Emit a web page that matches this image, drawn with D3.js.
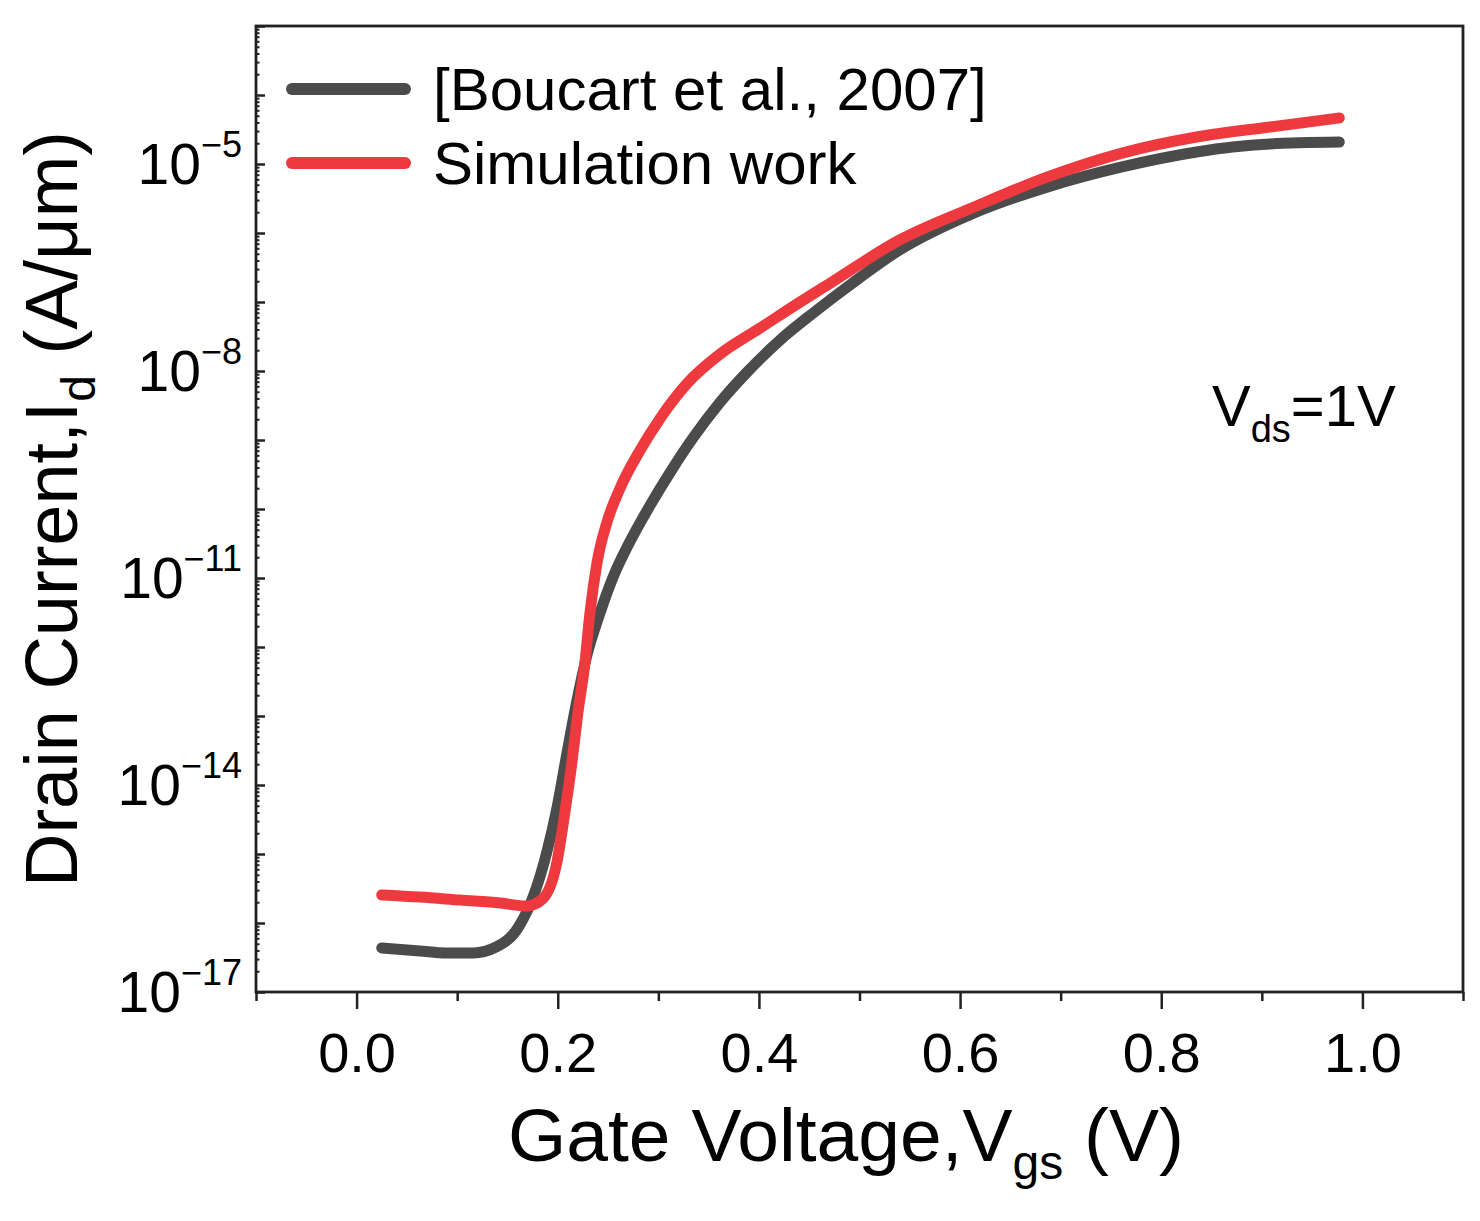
<!DOCTYPE html>
<html>
<head>
<meta charset="utf-8">
<script src="https://cdn.jsdelivr.net/npm/d3@7"></script>
<style>
  body { margin: 0; background: #fff; }
  text { font-family: "Liberation Sans", Arial, sans-serif; fill: #000; }
</style>
</head>
<body>
<div id="chart"></div>
<script>
// values
const refVgs = [0.025, 0.063, 0.089, 0.116, 0.139, 0.161, 0.178, 0.189, 0.199, 0.209,
  0.219, 0.229, 0.242, 0.255, 0.27, 0.292, 0.312, 0.335, 0.361, 0.388,
  0.421, 0.454, 0.493, 0.54, 0.614, 0.687, 0.761, 0.835, 0.871, 0.908, 0.977];
const refId = [4.35e-17, 3.93e-17, 3.67e-17, 3.67e-17, 4.49e-17, 8.75e-17, 3.01e-16, 1.05e-15, 4.47e-15, 2.82e-14,
  1.66e-13, 7.59e-13, 3.11e-12, 1.03e-11, 3.0e-11, 1.14e-10, 3.44e-10, 1.10e-9, 3.47e-9, 9.55e-9,
  2.81e-8, 6.93e-8, 1.88e-7, 5.68e-7, 1.95e-6, 4.65e-6, 9.06e-6, 1.49e-5, 1.76e-5, 1.95e-5, 2.08e-5];

const simVgs = [0.025, 0.063, 0.103, 0.143, 0.169, 0.185, 0.199, 0.207, 0.214, 0.22,
  0.227, 0.232, 0.239, 0.249, 0.262, 0.282, 0.302, 0.329, 0.361, 0.401,
  0.441, 0.471, 0.54, 0.614, 0.687, 0.761, 0.835, 0.908, 0.977];
const simId = [2.55e-16, 2.38e-16, 2.15e-16, 1.95e-16, 1.76e-16, 2.24e-16, 7.41e-16, 3.93e-15, 2.08e-14, 1.10e-13,
  5.86e-13, 3.11e-12, 1.65e-11, 6.49e-11, 2.01e-10, 7.16e-10, 2.08e-9, 6.70e-9, 1.74e-8, 4.17e-8,
  1.0e-7, 1.88e-7, 7.93e-7, 2.38e-6, 6.49e-6, 1.44e-5, 2.46e-5, 3.44e-5, 4.65e-5];

const seriesNames = ["[Boucart et al., 2007]", "Simulation work"];
const seriesColors = ["#4b4b4b", "#ee3a3e"];
const xTickValues = [0.0, 0.2, 0.4, 0.6, 0.8, 1.0];
const xMinorValues = [-0.1, 0.1, 0.3, 0.5, 0.7, 0.9, 1.1];
const yLabelExps = [-17, -14, -11, -8, -5];

const width = 1480;
const height = 1221;
const margin = { t: 26, r: 17, b: 229, l: 256 };
const w = width - margin.l - margin.r;
const h = height - margin.t - margin.b;

const xScale = d3.scaleLinear().domain([-0.1, 1.1]).range([0, w]);
const yScale = d3.scaleLog().domain([1e-17, 1e-3]).range([h, 0]);

const svg = d3
  .select("#chart")
  .append("svg")
  .attr("width", width)
  .attr("height", height);

const g = svg.append("g").attr("transform", `translate(${margin.l}, ${margin.t})`);

// bottom axis: major and minor ticks pointing out
g.append("g")
  .attr("transform", `translate(0, ${h})`)
  .call(d3.axisBottom(xScale).tickValues(xMinorValues).tickSize(9).tickFormat(""))
  .call((a) => a.select(".domain").remove())
  .selectAll("line")
  .attr("stroke", "#222")
  .attr("stroke-width", 2.5);

g.append("g")
  .attr("transform", `translate(0, ${h})`)
  .call(d3.axisBottom(xScale).tickValues(xTickValues).tickSize(17).tickFormat(d3.format(".1f")))
  .call((a) => a.select(".domain").remove())
  .call((a) => a.selectAll("line").attr("stroke", "#222").attr("stroke-width", 2.5))
  .selectAll("text")
  .attr("y", 0)
  .attr("dy", 0)
  .attr("transform", "translate(0, 80)")
  .style("font-size", "56px")
  .style("font-family", '"Liberation Sans", Arial, sans-serif')
  .attr("fill", "#000");

// left axis: decade ticks and small minor ticks pointing in
const decades = d3.range(-17, -2).map((e) => Math.pow(10, e));
const minors = [];
d3.range(-17, -3).forEach((e) => {
  d3.range(2, 10).forEach((m) => minors.push(m * Math.pow(10, e)));
});

g.append("g")
  .call(d3.axisLeft(yScale).tickValues(minors).tickSize(-3.5).tickFormat(""))
  .call((a) => a.select(".domain").remove())
  .selectAll("line")
  .attr("stroke", "#222")
  .attr("stroke-width", 2);

g.append("g")
  .call(d3.axisLeft(yScale).tickValues(decades).tickSize(-9).tickFormat(""))
  .call((a) => a.select(".domain").remove())
  .selectAll("line")
  .attr("stroke", "#222")
  .attr("stroke-width", 2.5);

const yLabels = g
  .append("g")
  .selectAll("text")
  .data(yLabelExps)
  .enter()
  .append("text")
  .attr("x", -14)
  .attr("y", (d) => yScale(Math.pow(10, d)) + 20)
  .attr("text-anchor", "end")
  .style("font-size", "57px");

yLabels.append("tspan").text("10");
yLabels
  .append("tspan")
  .attr("dy", -27)
  .style("font-size", "36px")
  .text((d) => "\u2212" + Math.abs(d));

// frame
g.append("rect")
  .attr("x", 0)
  .attr("y", 0)
  .attr("width", w)
  .attr("height", h)
  .attr("fill", "none")
  .attr("stroke", "#222")
  .attr("stroke-width", 2.8);

// curves
const line = d3
  .line()
  .x((d) => xScale(d[0]))
  .y((d) => yScale(d[1]))
  .curve(d3.curveMonotoneX);

const series = [d3.zip(refVgs, refId), d3.zip(simVgs, simId)];

g.selectAll(".curve")
  .data(series)
  .enter()
  .append("path")
  .attr("class", "curve")
  .attr("d", line)
  .attr("fill", "none")
  .attr("stroke", (d, i) => seriesColors[i])
  .attr("stroke-width", 11)
  .attr("stroke-linecap", "round")
  .attr("stroke-linejoin", "round");

// legend
const legend = g
  .selectAll(".legend")
  .data(seriesNames)
  .enter()
  .append("g")
  .attr("class", "legend")
  .attr("transform", (d, i) => `translate(36, ${63 + i * 74})`);

legend
  .append("line")
  .attr("x1", 0)
  .attr("x2", 113)
  .attr("stroke", (d, i) => seriesColors[i])
  .attr("stroke-width", 12)
  .attr("stroke-linecap", "round");

legend
  .append("text")
  .attr("x", 141)
  .attr("y", 21)
  .style("font-size", "60px")
  .text((d) => d);

// annotation
const vds = g
  .append("text")
  .attr("x", 956)
  .attr("y", 400)
  .style("font-size", "58px");
vds.append("tspan").text("V");
vds.append("tspan").attr("dy", 16).style("font-size", "38px").text("ds");
vds.append("tspan").attr("dy", -16).text("=1V");

// axis titles
const xTitle = svg
  .append("text")
  .attr("x", 846)
  .attr("y", 1161)
  .attr("text-anchor", "middle")
  .style("font-size", "75px");
xTitle.append("tspan").text("Gate Voltage,V");
xTitle.append("tspan").attr("dy", 18).style("font-size", "48px").text("gs");
xTitle.append("tspan").attr("dy", -18).text(" (V)");

const yTitle = svg
  .append("text")
  .attr("transform", `translate(77, ${margin.t + h / 2}) rotate(-90)`)
  .attr("text-anchor", "middle")
  .style("font-size", "74px");
yTitle.append("tspan").text("Drain Current,I");
yTitle.append("tspan").attr("dy", 18).style("font-size", "48px").text("d");
yTitle.append("tspan").attr("dy", -18).text(" (A/\u03bcm)");
</script>
</body>
</html>
